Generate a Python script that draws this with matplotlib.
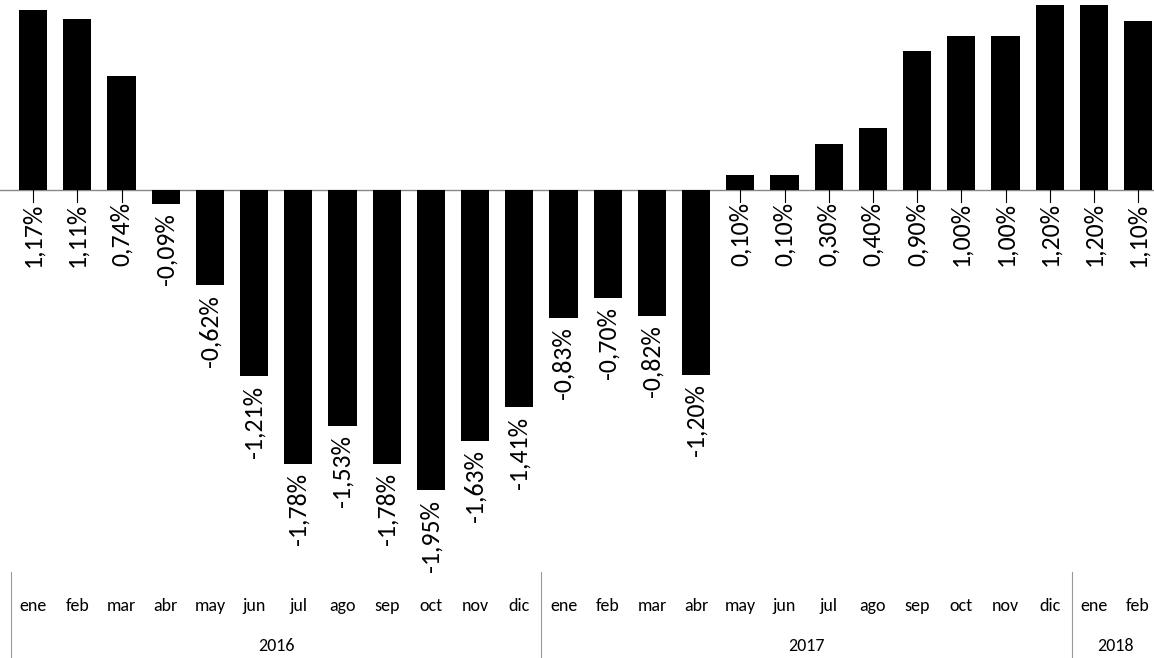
import matplotlib
matplotlib.use("Agg")
import matplotlib.pyplot as plt

months = ["ene","feb","mar","abr","may","jun","jul","ago","sep","oct","nov","dic",
          "ene","feb","mar","abr","may","jun","jul","ago","sep","oct","nov","dic",
          "ene","feb"]
years = ["2016", "2017", "2018"]
year_counts = [12, 12, 2]
values = [1.17,1.11,0.74,-0.09,-0.62,-1.21,-1.78,-1.53,-1.78,-1.95,-1.63,-1.41,
          -0.83,-0.70,-0.82,-1.20,0.10,0.10,0.30,0.40,0.90,1.00,1.00,1.20,1.20,1.10]

plt.rcParams['font.family'] = ['Carlito', 'Liberation Sans', 'DejaVu Sans']
fig = plt.figure(figsize=(11.54, 6.58), dpi=100)
ax = fig.add_axes([0, 0, 1, 1])
ax.set_xlim(-0.749, -0.749 + 1154 / 44.2)
ax.set_ylim(-3.039, 1.234)
ax.axis('off')

x = list(range(len(values)))
ax.bar(x, values, width=0.64, color='black', zorder=2)
ax.axhline(0, color='#888888', lw=1, zorder=1)

def fmt(v):
    return f"{v:.2f}".replace('.', ',') + "%"

for i, v in enumerate(values):
    if v >= 0:
        top = -0.08
        ax.plot([i, i], [0, top], color='black', lw=0.8)
        ax.text(i, top, fmt(v), rotation=90, ha='center', va='top', fontsize=18.5)
    else:
        ax.text(i, v - 0.06, fmt(v), rotation=90, ha='center', va='top', fontsize=18.5)

for i, m in enumerate(months):
    ax.text(i, -2.70, m, ha='center', va='center', fontsize=13)

start = 0
seps = [-0.5]
for y, c in zip(years, year_counts):
    ax.text(start + (c - 1) / 2, -2.96, y, ha='center', va='center', fontsize=13)
    start += c
    seps.append(start - 0.5)
for s in seps[:-1]:
    ax.plot([s, s], [-2.48, -3.039], color='#999999', lw=0.8, clip_on=False)

fig.savefig("out.png", dpi=100)
